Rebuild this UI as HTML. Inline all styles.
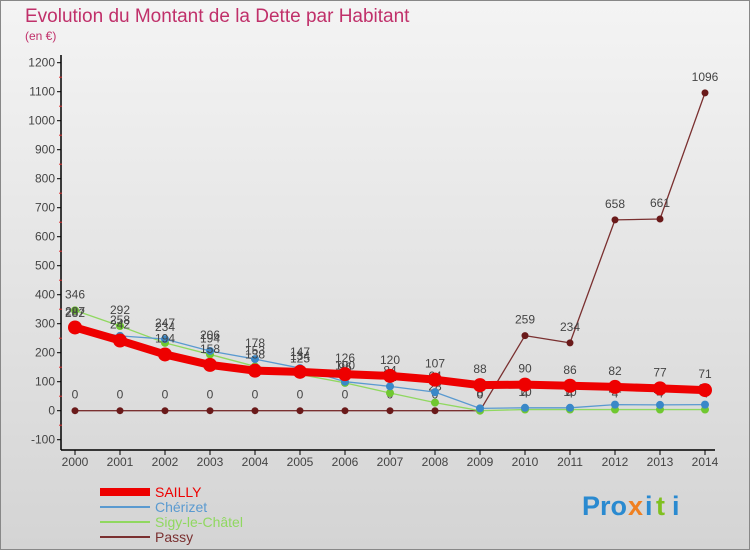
<!DOCTYPE html>
<html><head><meta charset="utf-8"><style>
body{margin:0;width:750px;height:550px;overflow:hidden;font-family:"Liberation Sans",sans-serif}
</style></head><body>
<svg id="c" width="750" height="550" xmlns="http://www.w3.org/2000/svg">
<defs><linearGradient id="bg" x1="0" y1="0" x2="0" y2="1"><stop offset="0" stop-color="#f4f4f4"/><stop offset="1" stop-color="#d4d4d4"/></linearGradient></defs>
<rect x="0.5" y="0.5" width="749" height="549" fill="url(#bg)" stroke="#888"/>
<text x="25" y="22" font-size="19" fill="#c0306a">Evolution du Montant de la Dette par Habitant</text>
<text x="25" y="40" font-size="12" fill="#c0306a">(en €)</text>
<g id="axes"></g><g id="series"></g><g id="legend"></g>
<g font-size="27" font-weight="bold">
<text x="582" y="515" fill="#2a8ad0">Pro</text><text x="628" y="515" fill="#f08020">x</text><text x="645" y="515" fill="#2a8ad0">i</text><text x="656" y="515" fill="#80c020">t</text><text x="672" y="515" fill="#2a8ad0">i</text>
</g>
</svg>
<script>
const years=[2000,2001,2002,2003,2004,2005,2006,2007,2008,2009,2010,2011,2012,2013,2014];
const yTicks=[-100,0,100,200,300,400,500,600,700,800,900,1000,1100,1200];
const sailly=[287,242,194,158,138,134,126,120,107,88,90,86,82,77,71];
const cherizet=[282,258,247,206,178,147,100,84,64,8,10,10,21,20,21];
const sigy=[346,292,234,194,153,125,96,61,28,0,4,4,4,4,4];
const passy=[0,0,0,0,0,0,0,0,0,0,259,234,658,661,1096];
const NS="http://www.w3.org/2000/svg";
const X=i=>75+i*45, Y=v=>410.7-v*0.29;
function mk(t,a,p){const e=document.createElementNS(NS,t);for(const k in a)e.setAttribute(k,a[k]);p.appendChild(e);return e;}
const ax=document.getElementById('axes');
let l=mk('line',{x1:61,y1:55,x2:61,y2:450,stroke:'#000','stroke-width':1.5},ax);


l=mk('line',{x1:61,y1:450,x2:715,y2:450,stroke:'#000','stroke-width':1.5},ax);


yTicks.forEach(v=>{
  mk('line',{x1:57,y1:Y(v),x2:61,y2:Y(v),stroke:'#000'},ax);
  if(v<1200)mk('line',{x1:59,y1:Y(v+50),x2:62,y2:Y(v+50),stroke:'#e03030'},ax);
  const t=mk('text',{x:55,y:Y(v)+4,'text-anchor':'end','font-size':12,fill:'#444'},ax);t.textContent=v;
  
  
});
years.forEach((y,i)=>{
  mk('line',{x1:X(i),y1:450,x2:X(i),y2:455,stroke:'#000'},ax);
  const t=mk('text',{x:X(i),y:466,'text-anchor':'middle','font-size':12,fill:'#444'},ax);t.textContent=y;
  
  
});
const sg=document.getElementById('series');
function draw(data,color,w,r,name,dot){
  const g=mk('g',{},sg);
  
  
  mk('polyline',{points:data.map((v,i)=>X(i)+','+Y(v)).join(' '),fill:'none',stroke:color,'stroke-width':w,'stroke-linejoin':'round'},g);
  data.forEach((v,i)=>{
    const c=mk('circle',{cx:X(i),cy:Y(v),r:r,fill:dot},g);
    
    
    const t=mk('text',{x:X(i),y:Y(v)-12,'text-anchor':'middle','font-size':12,fill:'#444'},g);t.textContent=v;
  });
}
draw(passy,'#7a3030',1.3,3.5,'series-passy','#6a1a1a');
draw(sigy,'#90d860',1.3,4,'series-sigy','#70c830');
draw(cherizet,'#5a9ad0',1.3,4,'series-cherizet','#3a88c8');
draw(sailly,'#ee0000',8,7,'series-sailly','#ee0000');
const lg=document.getElementById('legend');
const items=[['SAILLY','#ee0000',8],['Chérizet','#5a9ad0',2],['Sigy-le-Châtel','#90d860',2],['Passy','#7a3030',2]];
items.forEach((it,i)=>{
  const g=mk('g',{},lg);
  
  
  const y=492+i*15;
  mk('line',{x1:100,y1:y,x2:150,y2:y,stroke:it[1],'stroke-width':it[2]},g);
  const t=mk('text',{x:155,y:y+5,'font-size':14,fill:it[1]},g);t.textContent=it[0];
});
</script>
</body></html>
